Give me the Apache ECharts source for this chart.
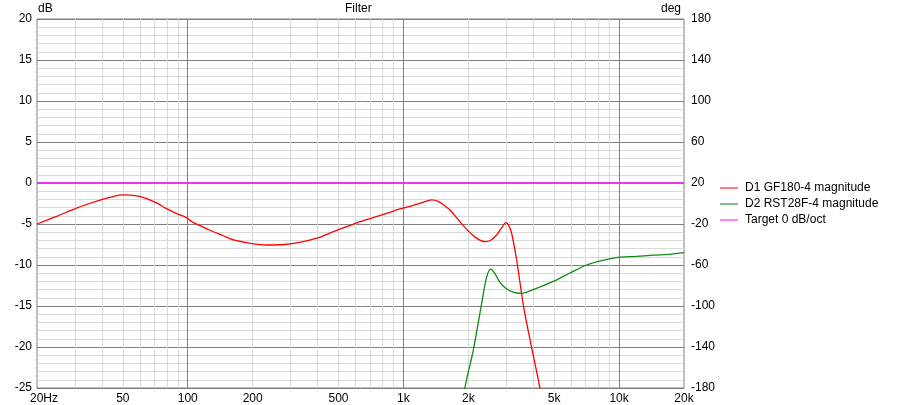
<!DOCTYPE html>
<html>
<head>
<meta charset="utf-8">
<script src="https://cdn.jsdelivr.net/npm/echarts@6/dist/echarts.min.js"></script>
<style>
html,body{margin:0;padding:0;background:#fff;}
#chart{width:901px;height:405px;}
</style>
</head>
<body>
<div id="chart"></div>
<script>
// ---- data ----
const freqD1 = [20, 25, 30.3, 35, 40.3, 45, 50, 57, 64, 72, 79.3, 90, 98, 105, 114, 126, 145, 163, 195, 232, 280, 331, 400, 473, 550, 629, 730, 836, 964, 1100, 1194, 1280, 1352, 1450, 1550, 1644, 1800, 1964, 2150, 2300, 2413, 2550, 2705, 2850, 2986, 3080, 3175, 3350, 3632, 4296, 5000];
const magD1  = [-5.0, -4.0, -3.09, -2.5, -1.99, -1.65, -1.46, -1.55, -1.87, -2.45, -3.09, -3.8, -4.19, -4.75, -5.2, -5.73, -6.4, -6.95, -7.35, -7.56, -7.5, -7.24, -6.7, -5.94, -5.3, -4.72, -4.2, -3.7, -3.17, -2.75, -2.48, -2.22, -2.07, -2.25, -2.75, -3.29, -4.5, -5.65, -6.6, -7.05, -7.15, -6.95, -6.34, -5.5, -4.84, -5.2, -6.13, -9.39, -15.5, -25.0, -34.0];
const freqD2 = [1700, 1928, 2108, 2305, 2430, 2538, 2650, 2800, 3000, 3250, 3532, 4000, 4952, 6000, 7070, 8500, 9910, 12000, 14390, 17000, 20000];
const magD2  = [-35.0, -25.0, -20.4, -14.7, -11.5, -10.5, -11.0, -12.1, -12.9, -13.35, -13.45, -13.0, -12.0, -10.9, -10.0, -9.4, -9.07, -8.95, -8.8, -8.7, -8.5];
const freqTarget = [20, 20000];
const magTarget  = [0, 0];

const seriesNames = ['D1 GF180-4 magnitude', 'D2 RST28F-4 magnitude', 'Target 0 dB/oct'];
const xLabelValues = [20, 50, 100, 200, 500, 1000, 2000, 5000, 10000, 20000];
const xLabelTexts  = ['20Hz', '50', '100', '200', '500', '1k', '2k', '5k', '10k', '20k'];
const minorGridFreqs = [30, 40, 50, 60, 70, 80, 90, 200, 300, 400, 500, 600, 700, 800, 900, 2000, 3000, 4000, 5000, 6000, 7000, 8000, 9000];
const majorGridFreqs = [100, 1000, 10000];
const dbTickLabels  = ['-25', '-20', '-15', '-10', '-5', '0', '5', '10', '15', '20'];
const degTickLabels = ['-180', '-140', '-100', '-60', '-20', '20', '60', '100', '140', '180'];

const FONT = 'Liberation Sans';
const pair = (xs, ys) => xs.map((x, i) => [x, ys[i]]);
const tickIndex = v => Math.round((v + 25) / 5);

const chart = echarts.init(document.getElementById('chart'), null, {renderer: 'canvas'});
chart.setOption({
  animation: false,
  backgroundColor: '#ffffff',
  textStyle: {fontFamily: FONT, fontSize: 12, color: '#000'},
  grid: {left: 37, right: 217, top: 19, bottom: 17, show: true, borderColor: '#7f7f7f', borderWidth: 1, backgroundColor: 'transparent'},
  graphic: [
    {type: 'text', left: 38, top: 3, style: {text: 'dB', font: '12px ' + FONT, fill: '#000'}},
    {type: 'text', left: 661, top: 3, style: {text: 'deg', font: '12px ' + FONT, fill: '#000'}},
    {type: 'text', left: 345, top: 3, style: {text: 'Filter', font: '12px ' + FONT, fill: '#000'}}
  ],
  legend: {
    orient: 'vertical', left: 720, top: 180, padding: 0, itemGap: 0, itemWidth: 18, itemHeight: 1,
    icon: 'rect',
    textStyle: {fontFamily: FONT, fontSize: 12, color: '#000', lineHeight: 16, padding: [0, 0, 0, 2]},
    data: seriesNames
  },
  xAxis: {
    type: 'log', logBase: 10, min: 20, max: 20000,
    axisLine: {show: false}, axisTick: {show: false}, splitLine: {show: false},
    axisLabel: {
      show: true, margin: 5, fontFamily: FONT, fontSize: 12, color: '#000',
      customValues: xLabelValues,
      formatter: function (v) {
        let i = xLabelValues.findIndex(x => Math.abs(x - v) / x < 1e-6);
        if (i < 0) return '';
        return i === 0 ? '{a|' + xLabelTexts[i] + '}' : xLabelTexts[i];
      },
      rich: {a: {padding: [0, 0, 0, 14], fontFamily: FONT, fontSize: 12, color: '#000'}}
    }
  },
  yAxis: [
    {
      type: 'value', min: -25, max: 20, interval: 5, position: 'left',
      axisLine: {show: false}, axisTick: {show: false},
      axisLabel: {margin: 5, fontFamily: FONT, fontSize: 12, color: '#000', formatter: v => dbTickLabels[tickIndex(v)]},
      splitLine: {show: true, lineStyle: {color: '#7f7f7f', width: 1}},
      minorTick: {show: false, splitNumber: 5},
      minorSplitLine: {show: true, lineStyle: {color: '#d9d9d9', width: 1}}
    },
    {
      type: 'value', min: -25, max: 20, interval: 5, position: 'right',
      axisLine: {show: false}, axisTick: {show: false}, splitLine: {show: false},
      axisLabel: {margin: 7, fontFamily: FONT, fontSize: 12, color: '#000', formatter: v => degTickLabels[tickIndex(v)]}
    }
  ],
  series: [
    {
      name: 'grid', type: 'line', data: [], silent: true, z: 1,
      markLine: {
        silent: true, symbol: ['none', 'none'], z: 1, animation: false,
        label: {show: false},
        data: minorGridFreqs.map(f => ({xAxis: f, lineStyle: {color: '#d9d9d9', width: 1, type: 'solid'}}))
          .concat(majorGridFreqs.map(f => ({xAxis: f, lineStyle: {color: '#7f7f7f', width: 1, type: 'solid'}})))
      }
    },
    {
      name: seriesNames[2], type: 'line', data: pair(freqTarget, magTarget), showSymbol: false, z: 3,
      lineStyle: {color: '#ee33ee', width: 2}, itemStyle: {color: '#ff00ff'}
    },
    {
      name: seriesNames[0], type: 'line', data: pair(freqD1, magD1), showSymbol: false, smooth: 0.3, z: 4,
      lineStyle: {color: '#ff0000', width: 1.3}, itemStyle: {color: '#ff0000'}
    },
    {
      name: seriesNames[1], type: 'line', data: pair(freqD2, magD2), showSymbol: false, smooth: 0.3, z: 4,
      lineStyle: {color: '#108a10', width: 1.3}, itemStyle: {color: '#008000'}
    }
  ]
});
</script>
</body>
</html>
